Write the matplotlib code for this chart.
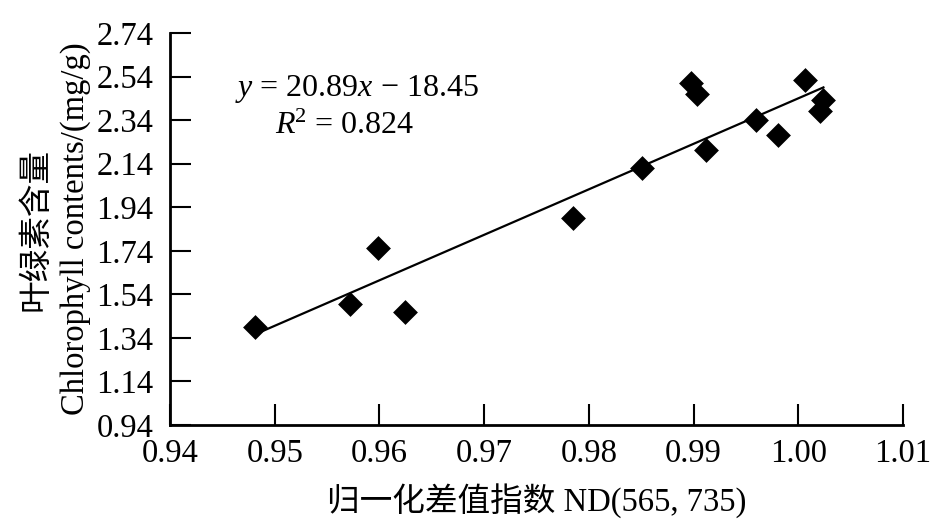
import numpy as np
import matplotlib
matplotlib.use("Agg")
import matplotlib.pyplot as plt

plt.rcParams['font.family'] = ['Liberation Serif', 'Noto Sans CJK SC']
plt.rcParams['mathtext.fontset'] = 'custom'
plt.rcParams['mathtext.rm'] = 'Liberation Serif'
plt.rcParams['mathtext.it'] = 'Liberation Serif:italic'

# data
nd_index = [0.9481, 0.9572, 0.9599, 0.9624, 0.9785, 0.9851, 0.9898, 0.9903,
            0.9912, 0.9960, 0.9981, 1.0006, 1.0024, 1.0021]
chlorophyll = [1.390, 1.496, 1.753, 1.459, 1.890, 2.120, 2.510, 2.458,
               2.203, 2.340, 2.272, 2.524, 2.432, 2.380]
slope, intercept = 20.89, -18.45
r2 = 0.824
xticks = [0.94, 0.95, 0.96, 0.97, 0.98, 0.99, 1.00, 1.01]
yticks = [0.94, 1.14, 1.34, 1.54, 1.74, 1.94, 2.14, 2.34, 2.54, 2.74]

fig = plt.figure(figsize=(9.45, 5.32), dpi=100)
ax = fig.add_axes([170/945, 1-425/532, (903-170)/945, (425-33)/532])

ax.scatter(nd_index, chlorophyll, marker='D', s=160, color='black', zorder=3, linewidths=0)
xl = np.array([min(nd_index), max(nd_index)])
ax.plot(xl, slope*xl + intercept, color='black', lw=1.6, zorder=2)

ax.set_xlim(0.94, 1.01)
ax.set_ylim(0.94, 2.74)
ax.set_xticks(xticks)
ax.set_xticklabels([f"{t:.2f}" for t in xticks])
ax.set_yticks(yticks)
ax.set_yticklabels([f"{t:.2f}" for t in yticks])

for s in ['top', 'right']:
    ax.spines[s].set_visible(False)
for s in ['left', 'bottom']:
    ax.spines[s].set_linewidth(2)
ax.tick_params(axis='both', direction='in', length=15, width=1.5, labelsize=23.5)
ax.tick_params(axis='x', pad=10)
ax.tick_params(axis='y', pad=12)

ax.text(0.088, 0.857, r"$y$ = 20.89$x$ − 18.45", transform=ax.transAxes, fontsize=23, ha='left', va='center')
ax.text(0.143, 0.762, r"$R$$^2$ = 0.824", transform=ax.transAxes, fontsize=23, ha='left', va='center')

ax.set_xlabel("归一化差值指数 ND(565, 735)", fontsize=23.5, labelpad=10)
ax.set_ylabel("叶绿素含量\nChlorophyll contents/(mg/g)", fontsize=23.5, labelpad=4, linespacing=1.35)

fig.savefig("out.png", dpi=100, facecolor='white')
